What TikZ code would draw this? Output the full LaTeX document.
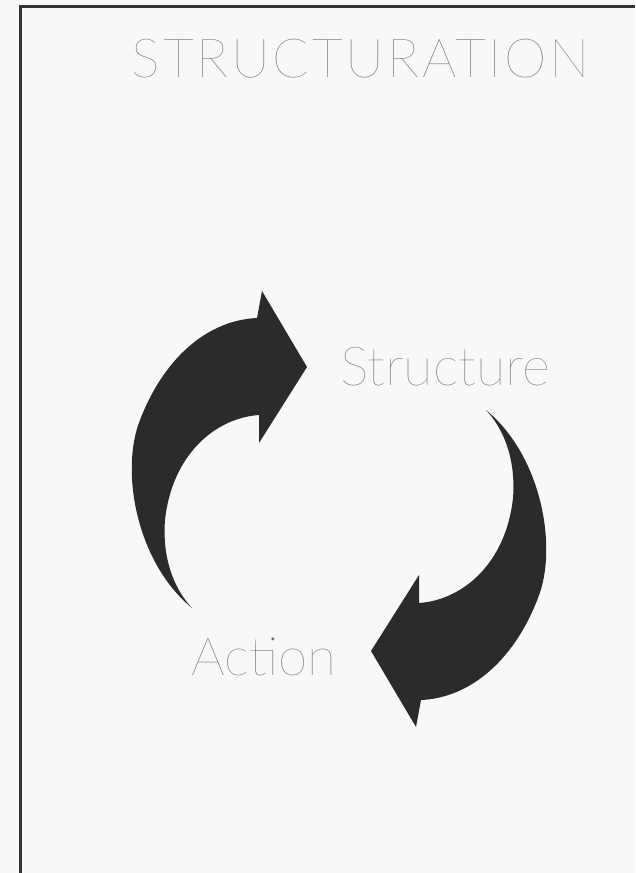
\documentclass[tikz,border=0pt]{standalone}
\usepackage{fontspec}
\newfontfamily\thinfont{Lato Thin}
\newfontfamily\titlefont[LetterSpace=5]{Lato Thin}
\usetikzlibrary{positioning}
\definecolor{arrowdark}{HTML}{2B2B2B}
\definecolor{inkgrey}{HTML}{6E6E6E}
\definecolor{framegrey}{HTML}{333333}
\definecolor{paper}{HTML}{F8F8F8}

\begin{document}
\begin{tikzpicture}[x=1pt, y=-1pt,
    wordlabel/.style={text=inkgrey, inner sep=0pt, anchor=base},
    cyclearrow/.style={fill=arrowdark}]
  \fill[paper] (0,0) rectangle (635,873);
  \useasboundingbox (0,0) rectangle (635,873);
  % frame, cut at right and bottom
  \draw[framegrey, line width=2.2pt] (20.5,873) -- (20.5,6.5) -- (635,6.5);

  \node[wordlabel, font=\titlefont\fontsize{54}{60}\selectfont] (title) at (361,77) {STRUCTURATION};
  \node[wordlabel, font=\thinfont\fontsize{54}{60}\selectfont] (structure) at (445,385) {Structure};
  \node[wordlabel, font=\thinfont\fontsize{53}{60}\selectfont] (action) at (264,675) {Action};

  % the two arrows turn about one centre
  \coordinate (hub) at (339,509);
  \foreach \turn in {0,180}
    \fill[cyclearrow, rotate around={\turn:(hub)}]
      (192,608) .. controls (136,562) and (120,470) .. (140,420)
      .. controls (165,355) and (210,320) .. (257,318)
      -- (262,291) -- (307,367) -- (259,443) -- (259,415)
      .. controls (215,418) and (172,455) .. (165,520)
      .. controls (162,560) and (175,590) .. cycle;
\end{tikzpicture}
\end{document}
